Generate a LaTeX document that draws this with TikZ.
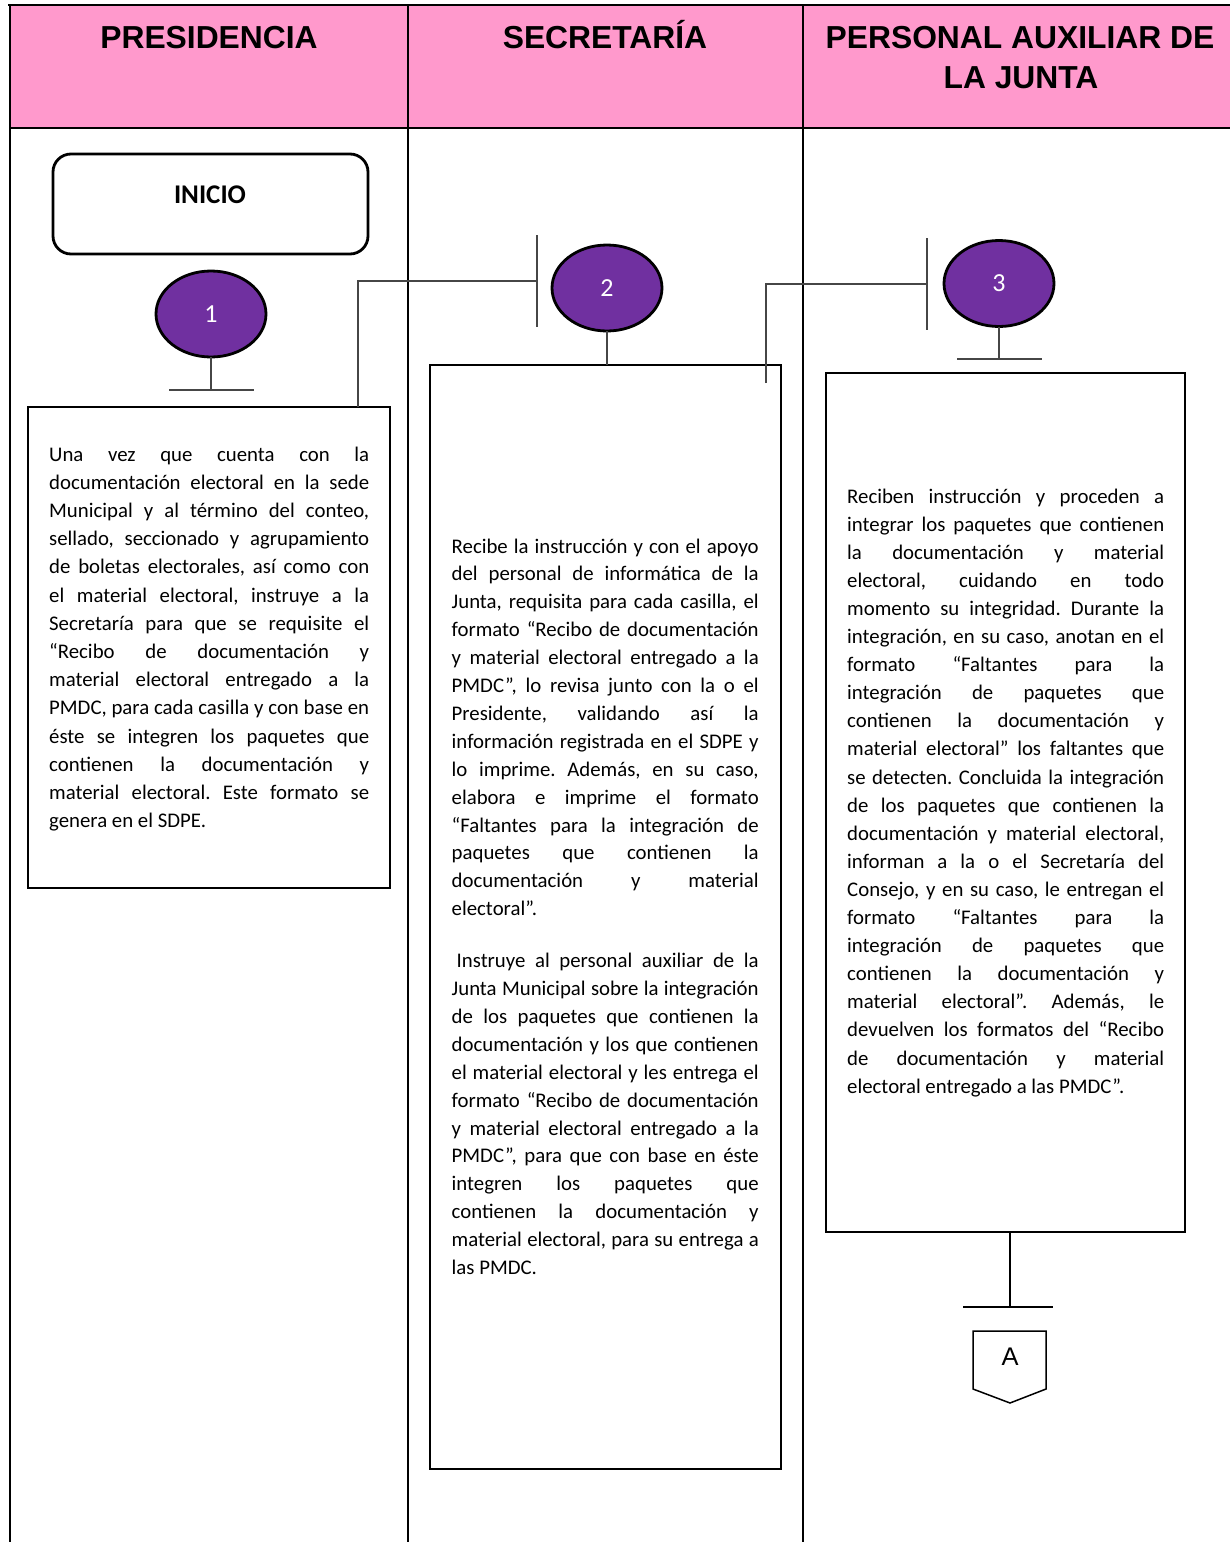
\documentclass[tikz,border=0pt]{standalone}
\usepackage{fontspec}
\setmainfont{Carlito}
\newfontfamily\hdrfont{Liberation Sans}
\usetikzlibrary{shapes.geometric}
\definecolor{hdrpink}{RGB}{255,153,204}
\definecolor{numpurple}{RGB}{112,48,160}
\definecolor{linkgray}{RGB}{70,70,70}
\newcommand\bodyfont{\fontsize{20.8}{28.1}\selectfont}
\newcommand\textblock[3]{\vtop{\hsize=#1\relax\fontsize{20.8}{#2}\selectfont\frenchspacing #3}}
\newcommand\jline[1]{\hbox to\hsize{#1}}
\newcommand\lline[1]{\hbox{#1}}
\begin{document}
\begin{tikzpicture}[x=1pt,y=-1pt,
  lane/.style={line width=2.8pt},
  boxst/.style={draw, line width=2.8pt, rectangle, inner sep=0pt, outer sep=0pt, anchor=north west},
  num/.style={ellipse, draw=black, line width=2.8pt, fill=numpurple, minimum width=110pt, minimum height=86pt, inner sep=0pt, outer sep=0pt, text=white, font=\fontsize{26}{30}\selectfont},
  link/.style={draw=linkgray, line width=1.5pt},
  hdr/.style={font=\hdrfont\bfseries\fontsize{31.8}{40}\selectfont, inner sep=0pt, anchor=base},
  body/.style={inner sep=0pt, anchor=base west}
]
\useasboundingbox (0,0) rectangle (1230,1542);
% swimlane frame
\fill[hdrpink] (10,5) rectangle (1230,128);
\draw[lane] (8,5) -- (1230,5);
\draw[lane] (10,5) -- (10,1542);
\draw[lane] (408,5) -- (408,1542);
\draw[lane] (803,5) -- (803,1542);
\draw[lane] (10,128) -- (1230,128);
% headers
\node[hdr] (h1) at (209,48) {PRESIDENCIA};
\node[hdr] (h2) at (605,48) {SECRETARÍA};
\node[hdr] (h3) at (1020,48) {PERSONAL AUXILIAR DE};
\node[hdr] (h3b) at (1021,88) {LA JUNTA};
% inicio
\node[boxst, rounded corners=18pt, minimum width=315pt, minimum height=100pt] (inicio) at (53,154) {};
\node[font=\bfseries\fontsize{27}{32}\selectfont, inner sep=0pt, anchor=base] (iniciot) at (210,203) {INICIO};
% numbered circles
\node[num] (n1) at (211,314) {1};
\node[num] (n2) at (607,288) {2};
\node[num] (n3) at (999,283.5) {3};
% boxes
\node[boxst, minimum width=362pt, minimum height=481pt] (box1) at (28,407) {};
\node[boxst, minimum width=351pt, minimum height=1104pt] (box2) at (430,365) {};
\node[boxst, minimum width=359pt, minimum height=859pt] (box3) at (826,373) {};
% texts
\node[body] (t1) at (49,461) {\textblock{320pt}{28.2pt}{%
\jline{Una vez que cuenta con la}
\jline{documentación electoral en la sede}
\jline{Municipal y al término del conteo,}
\jline{sellado, seccionado y agrupamiento}
\jline{de boletas electorales, así como con}
\jline{el material electoral, instruye a la}
\jline{Secretaría para que se requisite el}
\jline{“Recibo de documentación y}
\jline{material electoral entregado a la}
\jline{PMDC, para cada casilla y con base en}
\jline{éste se integren los paquetes que}
\jline{contienen la documentación y}
\jline{material electoral. Este formato se}
\lline{genera en el SDPE.}}};
\node[body] (t2) at (451.5,553) {\textblock{307pt}{27.9pt}{%
\jline{Recibe la instrucción y con el apoyo}
\jline{del personal de informática de la}
\jline{Junta, requisita para cada casilla, el}
\jline{formato “Recibo de documentación}
\jline{y material electoral entregado a la}
\jline{PMDC”, lo revisa junto con la o el}
\jline{Presidente, validando así la}
\jline{información registrada en el SDPE y}
\jline{lo imprime. Además, en su caso,}
\jline{elabora e imprime el formato}
\jline{“Faltantes para la integración de}
\jline{paquetes que contienen la}
\jline{documentación y material}
\lline{electoral”.}
\vskip 24pt
\jline{\hskip 5pt Instruye al personal auxiliar de la}
\jline{Junta Municipal sobre la integración}
\jline{de los paquetes que contienen la}
\jline{documentación y los que contienen}
\jline{el material electoral y les entrega el}
\jline{formato “Recibo de documentación}
\jline{y material electoral entregado a la}
\jline{PMDC”, para que con base en éste}
\jline{integren los paquetes que}
\jline{contienen la documentación y}
\jline{material electoral, para su entrega a}
\lline{las PMDC.}}};
\node[body] (t3) at (847,503) {\textblock{317pt}{28.1pt}{%
\jline{Reciben instrucción y proceden a}
\jline{integrar los paquetes que contienen}
\jline{la documentación y material}
\jline{electoral, cuidando en todo}
\jline{momento su integridad. Durante la}
\jline{integración, en su caso, anotan en el}
\jline{formato “Faltantes para la}
\jline{integración de paquetes que}
\jline{contienen la documentación y}
\jline{material electoral” los faltantes que}
\jline{se detecten. Concluida la integración}
\jline{de los paquetes que contienen la}
\jline{documentación y material electoral,}
\jline{informan a la o el Secretaría del}
\jline{Consejo, y en su caso, le entregan el}
\jline{formato “Faltantes para la}
\jline{integración de paquetes que}
\jline{contienen la documentación y}
\jline{material electoral”. Además, le}
\jline{devuelven los formatos del “Recibo}
\jline{de documentación y material}
\lline{electoral entregado a las PMDC”.}}};
% stems under circles
\coordinate (s1) at (211,390);
\draw[link] (n1.south) -- (s1);
\draw[link] (169,390) -- (254,390);
\draw[link] (n2.south) -- (n2.south |- box2.north);
\coordinate (s3) at (999,359);
\draw[link] (n3.south) -- (s3);
\draw[link] (957,359) -- (1042,359);
% connectors between lanes
\coordinate (b1) at (358,407);
\coordinate (bar2) at (537,281);
\draw[link] (b1) |- (bar2);
\draw[link] (537,235) -- (537,327);
\coordinate (b2) at (766,383);
\coordinate (bar3) at (927,284);
\draw[link] (b2) |- (bar3);
\draw[link] (927,238) -- (927,330);
% end of box 3 and off-page connector
\coordinate (s4) at (1010,1307);
\draw[line width=1.4pt] (box3.south -| s4) -- (s4);
\draw[line width=1.4pt] (963,1307) -- (1053,1307);
\node[font=\hdrfont\fontsize{25.5}{30}\selectfont, inner sep=0pt, anchor=base] (A) at (1010,1365) {A};
\draw[line width=1.5pt, line join=miter] (973,1331) -- (1046,1331) -- (1046,1389) -- (1010,1403) -- (973,1389) -- cycle;
\end{tikzpicture}
\end{document}
